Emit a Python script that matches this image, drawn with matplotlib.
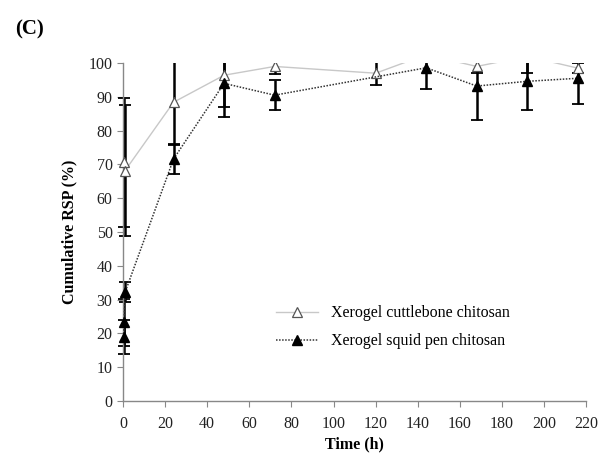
import numpy as np
import matplotlib
matplotlib.use('Agg')
import matplotlib.pyplot as plt
from matplotlib.patches import Rectangle
from matplotlib.lines import Line2D

plt.rcParams['font.family'] = ['Liberation Serif', 'DejaVu Serif']

# cuttlebone chitosan xerogel
t_cut = [0.5, 1, 24, 48, 72, 120, 144, 168, 192, 216]
y_cut = [70.6, 68.2, 88.4, 96.4, 99.0, 97.0, 102.5, 99.0, 102.0, 98.5]
e_cut = [19.0, 19.5, 12.5, 9.5, 2.3, 3.5, 1.5, 2.0, 5.0, 1.5]

# squid pen chitosan xerogel
t_sq = [0.25, 0.5, 1, 24, 48, 72, 144, 168, 192, 216]
y_sq = [19.0, 23.3, 32.2, 71.6, 94.0, 90.5, 98.6, 93.2, 94.6, 95.5]
e_sq = [5.0, 7.0, 3.0, 4.4, 10.0, 4.5, 6.3, 10.0, 8.4, 7.5]

x_ticks = np.arange(0, 221, 20)
y_ticks = np.arange(0, 101, 10)

fig = plt.figure(figsize=(6, 4.57), dpi=100)
ax = fig.add_axes([0.205, 0.1225, 0.772, 0.7395])

# clip at 100 on top, but let marks at t=0 show fully on the left
clip = Rectangle((-0.05, -0.05), 1.1, 1.05, transform=ax.transAxes,
                 facecolor='none', edgecolor='none')
ax.add_patch(clip)

arts = []
for t, y, e in [(t_cut, y_cut, e_cut), (t_sq, y_sq, e_sq)]:
    eb = ax.errorbar(t, y, yerr=e, fmt='none', ecolor='black',
                     elinewidth=1.8, capsize=4, capthick=1.3, zorder=2)
    arts += list(eb.lines[1]) + list(eb.lines[2])

l1, = ax.plot(t_cut, y_cut, color='#c8c8c8', lw=1.0, marker='^', ms=7,
              mfc='white', mec='#555555', mew=0.9, zorder=3)
l2, = ax.plot(t_sq, y_sq, color='#333333', lw=1.1, ls=(0, (1, 1)), marker='^',
              ms=7, mfc='black', mec='black', zorder=4)
arts += [l1, l2]
for a in arts:
    a.set_clip_path(clip)

ax.set_xlim(0, 220)
ax.set_ylim(0, 100)
ax.set_xticks(x_ticks)
ax.set_yticks(y_ticks)
for s in ['top', 'right']:
    ax.spines[s].set_visible(False)
for s in ['left', 'bottom']:
    ax.spines[s].set_color('#888888')
    ax.spines[s].set_linewidth(1.0)
ax.tick_params(direction='out', length=4, color='#888888', labelsize=11.5,
               labelcolor='#222222')
ax.tick_params(axis='x', pad=7)

ax.set_xlabel('Time (h)', fontsize=11.5, fontweight='bold', labelpad=3)
ax.set_ylabel('Cumulative RSP (%)', fontsize=11.5, fontweight='bold', labelpad=8)

h1 = Line2D([], [], color='#c8c8c8', lw=1.0, marker='^', ms=7,
            mfc='white', mec='#555555', mew=0.9)
h2 = Line2D([], [], color='#333333', lw=1.1, ls=(0, (1, 1)), marker='^',
            ms=7, mfc='black', mec='black')
ax.legend([h1, h2], ['Xerogel cuttlebone chitosan', 'Xerogel squid pen chitosan'],
          loc='lower left', bbox_to_anchor=(0.3, 0.11), frameon=False,
          fontsize=11.5, handlelength=2.6, labelspacing=0.75)

fig.text(0.025, 0.925, '(C)', fontsize=15, fontweight='bold')

fig.savefig('out.png', dpi=100)
